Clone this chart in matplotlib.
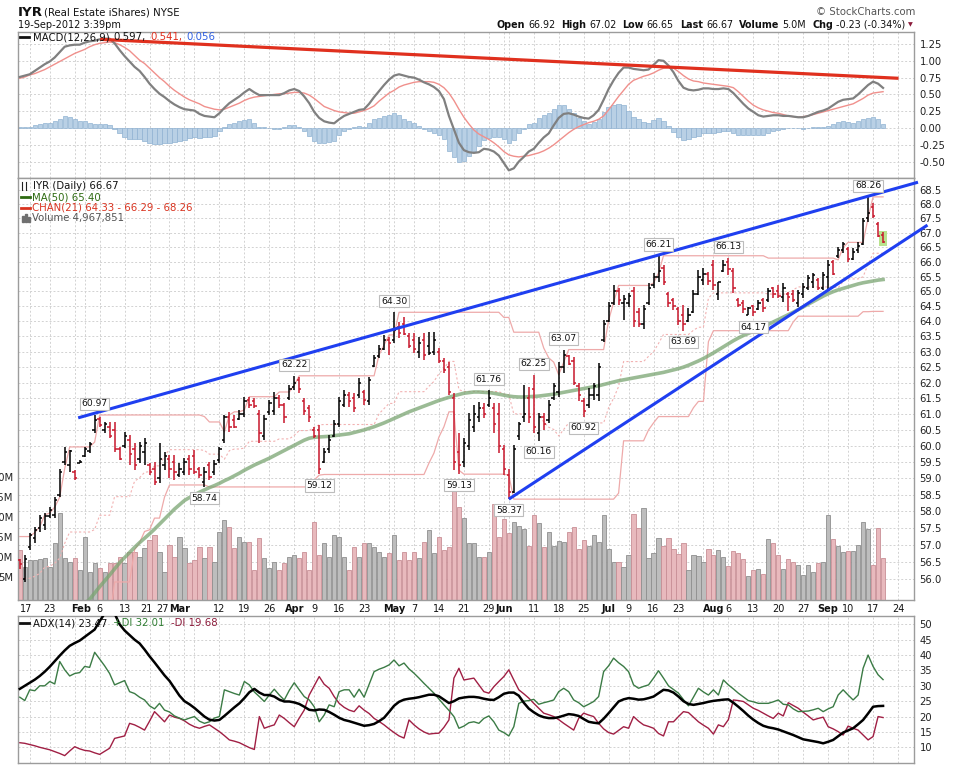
import numpy as np
import pandas as pd
import matplotlib
matplotlib.use("Agg")
import matplotlib.pyplot as plt
from matplotlib.ticker import FixedLocator, FuncFormatter, NullLocator
from matplotlib.transforms import blended_transform_factory
from matplotlib.patches import Rectangle
from matplotlib.lines import Line2D

plt.rcParams['font.family'] = ['DejaVu Sans']

W_PX, H_PX = 972, 766

# ---------------- data (IYR daily, 12-Jan-2012 .. 19-Sep-2012) ----------------
highs = [
    56.60, 56.71, 57.37, 57.54, 57.90, 57.95, 58.13, 58.43, 59.30, 59.97,
    59.87, 59.25, 59.56, 59.97, 60.12, 60.97, 60.92, 60.75, 60.75, 60.75,
    59.97, 60.44, 60.35, 60.10, 60.12, 60.25, 59.47, 59.50, 60.10, 59.80,
    59.72, 59.72, 59.47, 59.62, 59.72, 59.87, 59.35, 59.35, 59.50, 59.56,
    59.97, 60.97, 61.07, 60.97, 61.13, 61.55, 61.55, 61.50, 61.13, 60.97,
    61.45, 61.70, 61.60, 61.35, 61.92, 62.22, 62.18, 61.50, 61.30, 60.60,
    60.65, 59.94, 60.35, 60.82, 61.55, 61.76, 61.70, 61.67, 62.15, 61.76,
    62.18, 62.90, 63.22, 63.55, 63.48, 64.30, 63.97, 64.13, 63.60, 63.60,
    63.48, 63.60, 63.64, 63.64, 63.12, 62.80, 62.66, 61.67, 60.40, 60.25,
    61.03, 61.30, 61.38, 61.35, 61.76, 61.35, 61.35, 60.03, 59.30, 60.03,
    60.75, 61.92, 61.85, 62.25, 61.03, 61.03, 61.45, 61.99, 62.66, 63.07,
    62.90, 62.83, 62.00, 61.50, 61.83, 62.00, 62.63, 64.03, 64.63, 65.20,
    65.10, 64.88, 64.95, 65.15, 64.45, 64.55, 65.28, 65.62, 66.21, 65.90,
    64.98, 64.78, 64.48, 64.55, 64.45, 65.05, 65.72, 65.80, 65.65, 66.07,
    65.32, 66.07, 66.13, 65.80, 64.78, 64.70, 64.48, 64.55, 64.70, 64.78,
    65.10, 65.15, 65.20, 65.28, 64.98, 65.05, 65.05, 65.28, 65.55, 65.62,
    65.45, 65.65, 66.07, 66.07, 66.50, 66.67, 66.50, 66.48, 66.67, 67.52,
    68.26, 68.04, 67.38, 67.02,
]
lows = [
    56.30, 55.92, 56.86, 57.07, 57.40, 57.45, 57.80, 57.80, 58.43, 59.40,
    59.20, 58.95, 59.47, 59.65, 59.78, 60.40, 60.60, 60.40, 60.25, 59.80,
    59.56, 59.94, 59.40, 59.25, 59.47, 59.40, 59.10, 58.80, 58.85, 59.25,
    59.00, 58.95, 59.03, 59.10, 59.10, 59.15, 59.00, 58.74, 58.95, 59.10,
    59.47, 60.10, 60.44, 60.56, 60.80, 60.90, 61.20, 61.20, 60.10, 60.19,
    60.97, 60.97, 61.20, 60.72, 61.45, 61.77, 61.67, 60.97, 60.75, 60.25,
    59.12, 59.47, 59.78, 60.28, 60.60, 61.23, 61.23, 61.07, 61.50, 61.30,
    61.30, 62.50, 62.80, 63.05, 62.90, 63.28, 63.45, 63.55, 63.12, 62.96,
    62.80, 62.73, 62.90, 62.90, 62.63, 62.30, 61.60, 59.25, 59.13, 59.35,
    59.87, 60.44, 60.75, 60.88, 61.23, 60.40, 59.78, 59.10, 58.37, 58.55,
    60.19, 60.75, 60.72, 60.40, 60.16, 60.50, 60.72, 61.45, 61.55, 62.30,
    62.56, 61.92, 61.40, 60.92, 61.20, 61.45, 61.40, 63.33, 63.98, 64.55,
    64.55, 64.05, 64.48, 63.80, 63.80, 63.75, 64.55, 65.12, 65.32, 65.22,
    64.48, 64.38, 63.88, 63.69, 63.98, 64.28, 64.88, 65.22, 65.22, 65.05,
    64.70, 65.65, 65.55, 64.95, 64.48, 64.28, 64.20, 64.17, 64.38, 64.32,
    64.65, 64.78, 64.78, 64.65, 64.33, 64.65, 64.48, 64.78, 65.05, 65.12,
    65.05, 65.05, 65.05, 65.55, 66.13, 66.30, 66.00, 66.07, 66.30, 66.58,
    67.36, 67.52, 66.87, 66.65,
]
opens = [
    56.55, 56.00, 56.95, 57.20, 57.50, 57.60, 57.85, 57.90, 58.50, 59.50,
    59.40, 59.20, 59.48, 59.70, 59.85, 60.50, 60.85, 60.50, 60.60, 60.50,
    59.90, 60.00, 60.20, 59.90, 59.60, 59.80, 59.40, 59.30, 59.00, 59.40,
    59.60, 59.50, 59.10, 59.20, 59.60, 59.70, 59.30, 58.90, 59.40, 59.20,
    59.55, 60.20, 60.90, 60.80, 60.85, 61.00, 61.45, 61.40, 61.00, 60.30,
    61.05, 61.10, 61.50, 61.30, 61.50, 61.85, 62.10, 61.40, 61.20, 60.50,
    60.50, 59.50, 59.90, 60.30, 60.70, 61.30, 61.60, 61.50, 61.60, 61.70,
    61.40, 62.55, 62.85, 63.10, 63.40, 63.40, 63.80, 63.90, 63.50, 63.40,
    63.00, 63.40, 63.20, 63.00, 63.00, 62.70, 62.50, 61.50, 59.80, 59.50,
    60.00, 60.60, 60.90, 61.20, 61.30, 61.20, 61.00, 59.90, 59.10, 58.60,
    60.30, 60.90, 61.50, 61.80, 60.40, 60.90, 60.80, 61.50, 61.70, 62.50,
    62.85, 62.70, 61.90, 61.40, 61.30, 61.60, 61.60, 63.40, 64.00, 64.60,
    65.00, 64.60, 64.60, 65.00, 64.30, 63.90, 64.60, 65.20, 65.50, 65.80,
    64.90, 64.70, 64.40, 64.20, 64.00, 64.30, 64.90, 65.40, 65.60, 65.90,
    64.90, 65.70, 66.00, 65.70, 64.70, 64.60, 64.20, 64.50, 64.40, 64.70,
    64.70, 65.10, 65.00, 64.80, 64.90, 64.90, 64.60, 64.90, 65.10, 65.30,
    65.40, 65.10, 65.50, 66.00, 66.20, 66.40, 66.45, 66.10, 66.40, 66.60,
    67.50, 67.90, 67.30, 66.92,
]
closes = [
    56.45, 56.60, 57.30, 57.45, 57.80, 57.85, 58.05, 58.35, 59.20, 59.80,
    59.85, 59.00, 59.50, 59.90, 60.05, 60.80, 60.65, 60.70, 60.30, 59.90,
    59.60, 60.30, 59.75, 59.40, 60.00, 60.10, 59.20, 58.90, 59.60, 59.70,
    59.30, 59.20, 59.30, 59.50, 59.30, 59.20, 59.10, 59.20, 59.05, 59.45,
    59.90, 60.90, 60.60, 60.58, 61.00, 61.40, 61.30, 61.25, 60.40, 60.85,
    61.35, 61.50, 61.30, 60.90, 61.80, 62.00, 61.80, 61.10, 60.90, 60.30,
    59.30, 59.80, 60.20, 60.70, 61.40, 61.60, 61.40, 61.20, 62.00, 61.45,
    62.10, 62.80, 63.10, 63.40, 63.30, 63.70, 63.60, 63.57, 63.20, 63.10,
    63.30, 62.90, 62.95, 63.40, 62.70, 62.40, 61.70, 59.50, 59.40, 60.10,
    60.80, 61.00, 61.20, 61.00, 61.50, 60.70, 60.00, 59.30, 58.60, 59.90,
    60.70, 61.00, 60.90, 60.60, 60.90, 60.70, 61.30, 61.90, 62.50, 62.90,
    62.60, 62.00, 61.60, 61.10, 61.60, 61.90, 62.50, 63.90, 64.50, 65.00,
    64.70, 64.75, 64.85, 64.00, 63.90, 64.40, 65.10, 65.50, 65.70, 65.30,
    64.60, 64.50, 64.00, 63.90, 64.20, 64.90, 65.50, 65.60, 65.35, 65.20,
    65.30, 65.90, 65.75, 65.10, 64.55, 64.40, 64.45, 64.30, 64.60, 64.45,
    65.00, 64.90, 64.85, 65.10, 64.80, 64.70, 64.95, 65.15, 65.45, 65.55,
    65.10, 65.55, 65.90, 65.60, 66.40, 66.60, 66.10, 66.35, 66.55, 67.40,
    67.70, 67.60, 66.90, 66.67,
]
volume_m = [
    12.0, 7.8, 9.5, 9.5, 9.7, 9.9, 7.8, 13.7, 21.2, 9.9,
    9.1, 9.9, 7.0, 15.3, 6.6, 8.7, 7.4, 6.6, 8.7, 8.7,
    10.3, 8.7, 11.6, 11.6, 10.3, 12.4, 14.5, 15.8, 11.6, 6.6,
    13.2, 10.3, 15.3, 12.4, 8.7, 9.5, 12.8, 9.9, 12.8, 9.1,
    16.6, 19.5, 17.8, 12.4, 15.3, 14.1, 14.1, 7.0, 14.9, 9.9,
    7.4, 9.1, 7.0, 8.7, 10.3, 10.8, 9.9, 11.6, 7.0, 19.1,
    10.8, 13.7, 10.3, 15.8, 15.3, 10.3, 7.0, 12.8, 10.3, 13.7,
    13.7, 12.8, 11.6, 10.3, 11.2, 15.8, 9.5, 11.6, 9.5, 11.6,
    9.9, 14.1, 17.0, 11.2, 15.3, 12.0, 12.8, 27.0, 22.8, 19.9,
    13.7, 13.7, 10.3, 10.3, 11.6, 23.6, 15.3, 19.7, 16.2, 19.1,
    18.1, 17.2, 13.0, 20.8, 18.7, 12.8, 16.6, 13.1, 14.3, 13.9,
    16.6, 17.7, 12.2, 14.5, 13.0, 15.8, 13.9, 20.8, 12.2, 9.1,
    9.1, 7.7, 10.8, 21.0, 17.4, 22.4, 9.9, 11.2, 14.9, 13.0,
    14.9, 12.2, 11.0, 13.7, 7.0, 10.8, 10.5, 9.1, 12.2, 10.8,
    12.0, 10.3, 8.0, 11.8, 11.3, 9.8, 5.5, 7.0, 7.3, 6.0,
    14.7, 13.7, 10.8, 7.2, 9.7, 8.9, 8.3, 5.8, 8.3, 6.4,
    8.8, 8.9, 20.8, 14.7, 13.0, 11.4, 11.8, 11.8, 13.3, 19.0,
    17.3, 8.3, 17.4, 9.9,
]
ma50 = [
    53.0, 53.2, 53.4, 53.6, 53.8, 54.0, 54.2, 54.4, 54.6, 54.75,
    54.9, 55.05, 55.2, 55.3, 55.42, 55.6, 55.78, 55.95, 56.12, 56.3,
    56.48, 56.63, 56.78, 56.93, 57.07, 57.2, 57.33, 57.47, 57.62, 57.77,
    57.92, 58.07, 58.2, 58.33, 58.42, 58.5, 58.58, 58.65, 58.72, 58.78,
    58.85, 58.93, 59.0, 59.08, 59.16, 59.25, 59.33, 59.41, 59.48, 59.55,
    59.62, 59.7, 59.78, 59.86, 59.94, 60.02, 60.1, 60.18, 60.24, 60.27,
    60.28, 60.29, 60.3, 60.32, 60.34, 60.36, 60.38, 60.42, 60.46, 60.5,
    60.55, 60.6, 60.66, 60.72, 60.79, 60.86, 60.93, 61.0, 61.07, 61.13,
    61.19, 61.25, 61.31, 61.37, 61.43, 61.48, 61.53, 61.58, 61.62, 61.66,
    61.68, 61.7, 61.7, 61.69, 61.68, 61.66, 61.63, 61.6, 61.57, 61.55,
    61.54, 61.54, 61.55, 61.56, 61.57, 61.59, 61.61, 61.63, 61.66, 61.69,
    61.72, 61.75, 61.78, 61.81, 61.84, 61.87, 61.9, 61.94, 61.98, 62.02,
    62.06, 62.09, 62.12, 62.15, 62.18, 62.21, 62.24, 62.27, 62.3, 62.33,
    62.37, 62.41, 62.45, 62.5, 62.56, 62.63, 62.7, 62.78, 62.87, 62.96,
    63.06, 63.16, 63.26, 63.36, 63.45, 63.53, 63.6, 63.67, 63.74, 63.82,
    63.9, 63.98, 64.06, 64.14, 64.22, 64.3, 64.39, 64.48, 64.57, 64.66,
    64.75, 64.84, 64.92, 64.99, 65.05, 65.1, 65.15, 65.2, 65.25, 65.29,
    65.32, 65.35, 65.38, 65.40,
]
macd_line = [
    .76, .78, .80, .85, .90, .95, .99, 1.05, 1.13, 1.21,
    1.23, 1.24, 1.24, 1.27, 1.29, 1.30, 1.32, 1.33, 1.33, 1.26,
    1.16, 1.07, .99, .91, .85, .76, .66, .58, .51, .46,
    .40, .35, .31, .28, .27, .26, .21, .18, .17, .16,
    .22, .30, .37, .42, .47, .53, .58, .53, .49, .49,
    .49, .49, .49, .52, .56, .58, .55, .47, .37, .24,
    .15, .10, .08, .07, .13, .18, .21, .24, .27, .28,
    .36, .46, .55, .64, .72, .78, .80, .78, .76, .75,
    .72, .68, .65, .61, .55, .43, .18, -.02, -.22, -.33,
    -.36, -.37, -.36, -.31, -.32, -.35, -.41, -.52, -.63, -.60,
    -.50, -.43, -.35, -.31, -.22, -.14, -.08, .04, .15, .21,
    .22, .20, .17, .15, .14, .19, .27, .42, .58, .71,
    .82, .90, .90, .88, .87, .86, .87, .94, 1.01, 1.00,
    .93, .83, .70, .60, .57, .56, .57, .59, .59, .58,
    .58, .59, .58, .52, .44, .36, .29, .24, .19, .17,
    .18, .19, .19, .18, .18, .17, .16, .16, .18, .21,
    .24, .26, .29, .34, .39, .42, .43, .44, .50, .57,
    .64, .69, .66, .597,
]
macd_signal = [
    .74, .76, .79, .81, .84, .87, .91, .95, .99, 1.03,
    1.07, 1.11, 1.14, 1.17, 1.21, 1.24, 1.26, 1.27, 1.28, 1.27,
    1.24, 1.20, 1.15, 1.08, 1.01, .96, .89, .82, .75, .69,
    .62, .56, .51, .46, .42, .39, .36, .32, .30, .28,
    .27, .28, .31, .34, .37, .41, .44, .46, .47, .48,
    .49, .50, .51, .51, .52, .53, .53, .52, .49, .44,
    .38, .32, .29, .26, .24, .23, .22, .22, .24, .26,
    .29, .33, .40, .46, .52, .56, .61, .64, .66, .68,
    .69, .69, .69, .68, .65, .60, .52, .41, .28, .16,
    .06, -.03, -.09, -.13, -.17, -.22, -.28, -.35, -.40, -.42,
    -.43, -.42, -.41, -.39, -.37, -.34, -.30, -.25, -.19, -.13,
    -.07, -.02, .02, .05, .08, .10, .13, .18, .27, .37,
    .47, .56, .65, .71, .74, .77, .79, .82, .86, .89,
    .90, .89, .84, .78, .73, .70, .69, .67, .66, .65,
    .64, .63, .62, .60, .54, .47, .40, .34, .30, .27,
    .25, .23, .22, .20, .18, .17, .16, .17, .18, .20,
    .22, .24, .26, .28, .30, .32, .34, .36, .40, .44,
    .49, .52, .53, .541,
]
adx_line = [
    29.0, 30.0, 31.0, 32.0, 33.2, 34.6, 36.2, 38.0, 39.8, 41.5,
    43.0, 43.9, 44.7, 45.9, 47.1, 48.3, 51.0, 53.5, 55.0, 53.5,
    50.0, 48.0, 46.5, 45.0, 43.8, 41.8, 39.6, 37.6, 35.5, 33.4,
    31.6, 29.2, 26.8, 25.0, 24.0, 22.8, 21.4, 20.0, 19.0, 18.7,
    18.9, 20.2, 21.6, 23.0, 24.3, 26.0, 27.9, 29.0, 27.8, 27.0,
    27.0, 26.5, 25.5, 24.9, 24.9, 24.6, 24.1, 23.2, 22.2, 22.0,
    22.3, 22.2, 21.5, 20.6, 19.6, 18.9, 18.5, 18.0, 17.5, 17.0,
    17.2, 17.6, 18.5, 19.6, 21.5, 23.5, 24.8, 25.5, 25.8, 26.0,
    26.3, 26.7, 27.1, 27.1, 26.6, 25.5, 24.4, 25.0, 25.9, 26.2,
    26.4, 26.4, 26.2, 25.8, 25.5, 25.4, 26.3, 27.4, 27.8, 27.8,
    26.8, 24.5, 22.6, 21.4, 20.4, 19.8, 19.5, 19.5, 19.8, 20.3,
    20.8, 20.6, 20.2, 19.2, 18.3, 18.0, 17.8, 19.3, 21.1, 23.0,
    24.9, 25.6, 26.0, 25.8, 25.5, 25.6, 26.0, 26.5, 27.6, 28.7,
    28.5, 27.8, 26.5, 25.0, 24.1, 23.8, 24.1, 24.4, 24.8, 25.1,
    25.3, 25.5, 25.6, 24.5, 23.2, 21.8, 20.3, 19.0, 17.9, 17.0,
    16.5, 16.2, 15.8, 15.2, 14.6, 14.0, 13.3, 12.6, 12.3, 12.0,
    11.7, 11.3, 11.8, 12.4, 13.6, 14.8, 15.5, 16.2, 17.5, 18.9,
    21.0, 23.2, 23.4, 23.47,
]
plus_di = [
    26.3, 25.2, 28.7, 28.4, 30.0, 30.0, 31.4, 30.6, 37.9, 35.2,
    33.2, 34.0, 34.3, 36.3, 36.0, 40.9, 38.7, 36.5, 34.0, 30.3,
    31.0, 31.7, 28.1, 27.5, 26.3, 25.4, 23.5, 22.5, 24.3, 22.1,
    21.5, 20.2, 19.5, 18.9, 19.5, 20.0, 18.5, 17.8, 18.3, 19.5,
    20.0, 28.7, 28.1, 27.5, 27.0, 31.4, 30.3, 28.0, 26.5, 24.9,
    27.0, 28.9, 27.0, 25.4, 28.5, 31.0, 28.7, 26.5, 25.4, 23.2,
    18.3, 20.5, 23.8, 23.2, 28.1, 28.7, 28.7, 26.3, 28.9, 26.3,
    30.5, 34.6, 35.4, 36.0, 36.8, 38.4, 36.5, 37.4, 35.5, 34.1,
    32.5, 30.8, 29.2, 27.6, 25.7, 23.8, 22.0, 20.0, 16.2, 16.9,
    18.0, 18.3, 17.8, 19.4, 20.2, 18.3, 15.6, 14.8, 13.7, 16.7,
    24.3, 25.0, 25.2, 25.6, 24.0, 24.5, 24.9, 25.4, 28.1, 29.2,
    28.1, 25.4, 24.5, 23.2, 24.0, 24.9, 26.5, 34.6, 36.5, 39.0,
    37.5, 36.3, 34.6, 30.3, 29.2, 29.8, 30.3, 32.5, 34.9, 32.5,
    30.0, 28.8, 27.6, 25.5, 23.5, 26.3, 29.2, 28.0, 27.0, 28.7,
    27.0, 31.9, 30.3, 29.0, 27.6, 26.4, 25.2, 24.8, 24.3, 24.3,
    24.3, 24.8, 25.4, 24.0, 23.8, 22.5, 21.6, 21.7, 21.8, 22.2,
    22.7, 21.6, 22.5, 23.2, 27.0, 28.7, 27.0, 25.4, 27.0, 35.7,
    40.0, 36.3, 33.6, 32.01,
]
minus_di = [
    11.5, 11.3, 10.9, 10.5, 10.0, 9.6, 9.2, 8.6, 8.0, 7.3,
    8.8, 10.2, 9.5, 9.0, 8.8, 8.2, 7.7, 8.7, 9.7, 12.9,
    13.3, 13.7, 17.8, 17.3, 16.5, 15.6, 18.5, 21.6, 20.0, 18.3,
    20.5, 19.8, 19.4, 18.6, 17.5, 16.7, 16.2, 16.8, 17.3, 16.2,
    15.1, 13.8, 12.4, 12.0, 11.5, 10.7, 9.9, 9.3, 20.0, 16.2,
    16.8, 17.3, 20.5, 19.4, 18.0, 16.7, 19.5, 22.1, 27.0, 30.0,
    33.0, 30.5, 29.2, 26.5, 24.3, 23.0, 22.1, 21.6, 23.5, 22.1,
    21.0, 19.4, 18.4, 17.3, 16.0, 14.8, 13.7, 13.0, 18.9, 17.3,
    16.0, 15.0, 14.3, 14.5, 14.6, 16.5, 18.9, 32.5, 35.7, 31.9,
    32.2, 32.5, 30.3, 28.1, 27.6, 29.7, 31.4, 33.0, 35.2, 31.9,
    28.7, 27.4, 26.0, 24.3, 22.7, 21.1, 20.6, 20.0, 19.0, 17.8,
    16.7, 15.6, 19.4, 21.1, 20.5, 20.0, 17.8, 16.0, 14.8, 14.3,
    15.5, 16.7, 16.2, 20.0, 18.5, 17.3, 16.8, 16.2, 14.5, 13.7,
    18.3, 18.3, 20.0, 21.6, 21.3, 19.8, 18.3, 17.2, 16.2, 14.3,
    17.3, 16.7, 19.0, 25.4, 25.2, 24.9, 23.8, 22.7, 22.0, 21.1,
    20.2, 19.4, 21.1, 20.2, 24.5, 23.6, 22.7, 21.4, 20.2, 18.9,
    19.4, 19.8, 16.7, 16.0, 15.1, 14.0, 16.9, 16.2, 15.6, 14.0,
    12.4, 13.5, 20.0, 19.68,
]

# channel levels carried over from before the first visible day
chan_pre_high = 57.25
chan_pre_low = 54.8
chan_pre_low_until = 19

# hand-drawn trend lines (day index, value)
upper_trend = ([11.7, 180.0], [60.88, 68.78])
lower_trend = ([98.0, 181.9], [58.37, 67.27])
macd_trend = ([16.1, 176.1], [1.32, 0.74])

# labelled swing points: (day index, 'h' = high, 'l' = low)
swing_labels = [(15, 'h'), (37, 'l'), (55, 'h'), (60, 'l'), (75, 'h'), (88, 'l'),
                (94, 'h'), (98, 'l'), (103, 'h'), (104, 'l'), (109, 'h'), (113, 'l'),
                (128, 'h'), (133, 'l'), (142, 'h'), (147, 'l'), (170, 'h')]

date_labels = [("2012-01-17", "17"), ("2012-01-23", "23"), ("2012-02-01", "Feb"),
               ("2012-02-06", "6"), ("2012-02-13", "13"), ("2012-02-21", "21"),
               ("2012-02-27", "27"), ("2012-03-01", "Mar"), ("2012-03-12", "12"),
               ("2012-03-19", "19"), ("2012-03-26", "26"), ("2012-04-02", "Apr"),
               ("2012-04-09", "9"), ("2012-04-16", "16"), ("2012-04-23", "23"),
               ("2012-05-01", "May"), ("2012-05-07", "7"), ("2012-05-14", "14"),
               ("2012-05-21", "21"), ("2012-05-29", "29"), ("2012-06-01", "Jun"),
               ("2012-06-11", "11"), ("2012-06-18", "18"), ("2012-06-25", "25"),
               ("2012-07-02", "Jul"), ("2012-07-09", "9"), ("2012-07-16", "16"),
               ("2012-07-23", "23"), ("2012-08-01", "Aug"), ("2012-08-06", "6"),
               ("2012-08-13", "13"), ("2012-08-20", "20"), ("2012-08-27", "27"),
               ("2012-09-04", "Sep"), ("2012-09-10", "10"), ("2012-09-17", "17"),
               ("2012-09-24", "24")]
# crowded labels are nudged left (pixels)
label_nudge = {"2012-01-17": -4, "2012-02-01": -4, "2012-02-21": -3,
               "2012-02-27": -7, "2012-03-01": -5}
extra_grid_dates = ["2012-01-30", "2012-03-05", "2012-04-30", "2012-06-04", "2012-07-30"]

macd_ticks = [-0.50, -0.25, 0.00, 0.25, 0.50, 0.75, 1.00, 1.25]
price_ticks = [56.0 + 0.5 * k for k in range(26)]
adx_ticks = [10, 15, 20, 25, 30, 35, 40, 45, 50]
vol_ticks = [5, 10, 15, 20, 25, 30]

# ---------------- calendar ----------------
holidays = ["2012-01-16", "2012-02-20", "2012-04-06", "2012-05-28", "2012-07-04", "2012-09-03"]
cal = pd.bdate_range("2012-01-12", "2012-09-28")
cal = cal[~cal.isin(pd.to_datetime(holidays))]
pos = {d.strftime("%Y-%m-%d"): i for i, d in enumerate(cal)}

H = np.array(highs); L = np.array(lows); O = np.array(opens); C = np.array(closes)
n = len(C)
x = np.arange(n)
up = np.r_[False, C[1:] > C[:-1]]

# price channel (21 prior days)
upper = pd.Series(H).rolling(21, min_periods=1).max().shift(1).to_numpy()
lower = pd.Series(L).rolling(21, min_periods=1).min().shift(1).to_numpy()
early = x < 21
upper[early] = np.fmax(upper[early], chan_pre_high)
lower[x < chan_pre_low_until] = chan_pre_low
mid = (upper + lower) / 2

hist = np.array(macd_line) - np.array(macd_signal)

# ---------------- figure ----------------
fig = plt.figure(figsize=(W_PX / 100, H_PX / 100), dpi=100)
fig.patch.set_facecolor("white")
renderer = fig.canvas.get_renderer()

def fx(px):
    return px / W_PX

def fy(py):
    return 1 - py / H_PX

left, right = 18, 914
ax_macd = fig.add_axes([fx(left), fy(178), (right - left) / W_PX, (178 - 32) / H_PX])
ax_price = fig.add_axes([fx(left), fy(600), (right - left) / W_PX, (600 - 178) / H_PX])
ax_adx = fig.add_axes([fx(left), fy(763), (right - left) / W_PX, (763 - 616) / H_PX])

XMIN, XMAX = -0.36, 179.2
GRID = "#d2d2d2"
SPINE = "#9c9c9c"

grid_days = [pos[d] for d, _ in date_labels] + [pos[d] for d in extra_grid_dates]

for ax in (ax_macd, ax_price, ax_adx):
    ax.set_xlim(XMIN, XMAX)
    ax.set_xticks([])
    ax.yaxis.tick_right()
    ax.tick_params(axis="y", length=0, pad=4, labelsize=7.2, colors="#222222")
    for s in ax.spines.values():
        s.set_color(SPINE)
        s.set_linewidth(1.0)
    for g in grid_days:
        ax.axvline(g, color=GRID, lw=0.7, ls=(0, (2, 2)), zorder=0)

# ---- MACD panel ----
ax_macd.set_ylim(-0.744, 1.429)
ax_macd.yaxis.set_major_locator(FixedLocator(macd_ticks))
ax_macd.yaxis.set_major_formatter(FuncFormatter(lambda v, p: f"{v:.2f}"))
for t in macd_ticks:
    ax_macd.axhline(t, color=GRID, lw=0.7, ls=(0, (2, 2)), zorder=0)
ax_macd.bar(x, hist, width=0.85, color="#b9d0e5", edgecolor="#90b2d2", linewidth=0.5, zorder=2)
ax_macd.plot(x, macd_signal, color="#f0908c", lw=1.0, zorder=3)
ax_macd.plot(x, macd_line, color="#808080", lw=1.6, zorder=4)
ax_macd.plot(*macd_trend, color="#e0301e", lw=2.3, zorder=5, solid_capstyle="butt")

# ---- price panel ----
ax_price.set_yscale("log")
ax_price.set_ylim(55.40, 68.93)
ax_price.yaxis.set_major_locator(FixedLocator(price_ticks))
ax_price.yaxis.set_major_formatter(FuncFormatter(lambda v, p: f"{v:.1f}"))
ax_price.yaxis.set_minor_locator(NullLocator())
for t in price_ticks:
    ax_price.axhline(t, color=GRID, lw=0.7, ls=(0, (2, 2)), zorder=0)

# volume overlay: x in days, y in axes fraction (4 px per million)
vtrans = blended_transform_factory(ax_price.transData, ax_price.transAxes)
panel_h = 600 - 178
for xi, v, u in zip(x, volume_m, up):
    fc, ec = ("#bdbdbd", "#8f8f8f") if u else ("#e8b9bd", "#c98f96")
    ax_price.add_patch(Rectangle((xi - 0.42, 0), 0.84, (2 + 4 * v) / panel_h, transform=vtrans,
                                 facecolor=fc, edgecolor=ec, linewidth=0.6, zorder=1))

ax_price.plot(x, upper, color="#eeaaaa", lw=0.9, zorder=2)
ax_price.plot(x, lower, color="#eeaaaa", lw=0.9, zorder=2)
ax_price.plot(x, mid, color="#f2b2b2", lw=0.8, ls=(0, (2, 2)), zorder=2)
ax_price.plot(x, ma50, color="#7aa572", lw=2.6, alpha=0.75, zorder=2.5)

ax_price.add_patch(Rectangle((n - 1 - 0.8, 66.56), 1.6, 0.49, facecolor="#b9e38e",
                             edgecolor="none", zorder=2.6))

bar_col = np.where(up, "#000000", "#c8182c")
ax_price.vlines(x, L, H, colors=bar_col, lw=1.1, zorder=3)
ax_price.hlines(O, x - 0.45, x, colors=bar_col, lw=1.1, zorder=3)
ax_price.hlines(C, x, x + 0.45, colors=bar_col, lw=1.1, zorder=3)

for tx, ty in (upper_trend, lower_trend):
    ax_price.plot(tx, ty, color="#1f3ff0", lw=2.2, zorder=4, clip_on=False, solid_capstyle="butt")

for d, kind in swing_labels:
    val = H[d] if kind == "h" else L[d]
    off = 8 if kind == "h" else -8
    ax_price.annotate(f"{val:.2f}", xy=(d, val), xytext=(0, off), textcoords="offset points",
                      ha="center", va="center", fontsize=6.6, color="#111111", zorder=6,
                      bbox=dict(boxstyle="square,pad=0.18", fc="white", ec="#bcbcbc", lw=0.8))

# volume scale on the far left (the image edge cuts the leading digit, as in the original)
for v in vol_ticks:
    fig.text(fx(13), fy(598 - 4 * v), f"{v}M", ha="right", va="center", fontsize=7.2, color="#222222")

# date labels
for d, lab in date_labels:
    bold = lab.isalpha()
    xpx = ax_price.transData.transform((pos[d], 60.0))[0] + label_nudge.get(d, 0)
    fig.text(xpx / W_PX, fy(608.5), lab, ha="center", va="center", fontsize=7.0,
             fontweight="bold" if bold else "normal", color="#111111")

# ---- ADX panel ----
ax_adx.set_ylim(4.9, 52.7)
ax_adx.yaxis.set_major_locator(FixedLocator(adx_ticks))
ax_adx.yaxis.set_major_formatter(FuncFormatter(lambda v, p: f"{v:.0f}"))
for t in adx_ticks:
    ax_adx.axhline(t, color=GRID, lw=0.7, ls=(0, (2, 2)), zorder=0)
ax_adx.plot(x, minus_di, color="#a01f44", lw=1.0, zorder=2)
ax_adx.plot(x, plus_di, color="#3b7b45", lw=1.0, zorder=3)
ax_adx.plot(x, adx_line, color="#000000", lw=1.8, zorder=4)

# ---------------- header and legends ----------------
def txt(px, py, s, size=7.3, color="#111111", weight="normal", ha="left"):
    return fig.text(fx(px), fy(py), s, fontsize=size, color=color, fontweight=weight, ha=ha, va="center")

def measure(s, size, weight="normal"):
    t = fig.text(0, 0, s, fontsize=size, fontweight=weight)
    w = t.get_window_extent(renderer=renderer).width
    t.remove()
    return w

def row(px, py, pieces, size, align_right=False):
    # pieces: (text, color, weight, gap after in px)
    total = sum(measure(s, size, w) + g for s, c, w, g in pieces)
    if align_right:
        px = px - total
    for s, c, w, g in pieces:
        txt(px, py, s, size=size, color=c, weight=w)
        px += measure(s, size, w) + g
    return px

def dash(px0, px1, py, color, lw=2.0):
    fig.add_artist(Line2D([fx(px0), fx(px1)], [fy(py), fy(py)], color=color, lw=lw,
                          transform=fig.transFigure))

K = "#111111"
txt(18, 12, "IYR", size=9.6, weight="bold")
txt(44, 12.5, "(Real Estate iShares) NYSE", size=7.3)
txt(18, 24.5, "19-Sep-2012 3:39pm", size=7.0)
txt(915, 12, "\u00a9 StockCharts.com", size=7.3, color="#555555", ha="right")

header = [("Open", K, "bold", 3), ("66.92", K, "normal", 6), ("High", K, "bold", 3),
          ("67.02", K, "normal", 6), ("Low", K, "bold", 3), ("66.65", K, "normal", 6),
          ("Last", K, "bold", 3), ("66.67", K, "normal", 6), ("Volume", K, "bold", 3),
          ("5.0M", K, "normal", 6), ("Chg", K, "bold", 3), ("-0.23 (-0.34%)", K, "normal", 0)]
row(905, 24.5, header, 6.9, align_right=True)
txt(908, 25, "\u25bc", size=4.5, color="#8b1a3a")

# MACD legend
dash(20, 29, 37, "#111111")
row(33, 37, [("MACD(12,26,9)", K, "normal", 4), ("0.597,", K, "normal", 4),
             ("0.541,", "#e0301e", "normal", 4), ("0.056", "#3060e0", "normal", 0)], 7.3)

# price legend
for xb in (22, 26):
    fig.add_artist(Line2D([fx(xb), fx(xb)], [fy(182), fy(190)], color="#222222", lw=0.8,
                          transform=fig.transFigure))
txt(33, 186, "IYR (Daily) 66.67", size=7.3)
dash(21, 30, 197, "#2e6b12")
txt(32, 197, "MA(50) 65.40", size=7.3, color="#2e6b12")
dash(21, 30, 208, "#d9331f")
txt(32, 208, "CHAN(21) 64.33 - 66.29 - 68.26", size=7.3, color="#d9331f")
for xb, hb in ((21.5, 6), (24.5, 8), (27.5, 5)):
    fig.add_artist(Rectangle((fx(xb), fy(222)), 2 / W_PX, hb / H_PX, color="#707070",
                             transform=fig.transFigure))
txt(32, 218, "Volume 4,967,851", size=7.3, color="#555555")

# ADX legend
dash(20, 29, 623, "#111111")
row(33, 623, [("ADX(14) 23.47", K, "normal", 6),
              ("+DI 32.01", "#2e7d32", "normal", 6), ("-DI 19.68", "#8b1a3a", "normal", 0)], 7.3)

fig.savefig("out.png", dpi=100, facecolor="white")
